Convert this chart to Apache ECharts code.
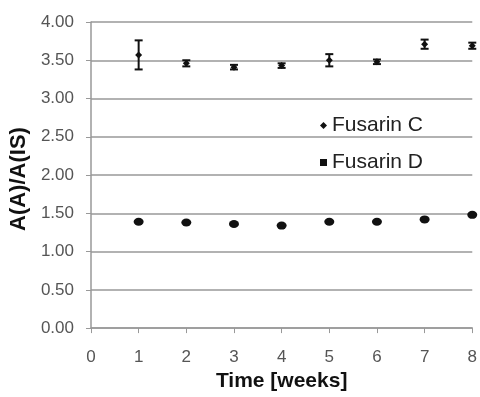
<!DOCTYPE html>
<html><head><meta charset="utf-8">
<script src="https://cdn.jsdelivr.net/npm/echarts@6/dist/echarts.min.js"></script>
<style>html,body{margin:0;padding:0;background:#fff}#c{width:480px;height:397px}</style>
</head><body><div id="c"></div>
<script>
const weeks = [1, 2, 3, 4, 5, 6, 7, 8];
const fusarinC = [3.57, 3.46, 3.41, 3.43, 3.50, 3.48, 3.71, 3.69];
const fusarinCErr = [0.19, 0.04, 0.03, 0.03, 0.08, 0.03, 0.06, 0.04];
const fusarinD = [1.39, 1.38, 1.36, 1.34, 1.39, 1.39, 1.42, 1.48];
const xTicks = [0, 1, 2, 3, 4, 5, 6, 7, 8];
const yTicks = [0, 0.5, 1, 1.5, 2, 2.5, 3, 3.5, 4];

const chart = echarts.init(document.getElementById('c'), null, {renderer: 'canvas'});
const errData = weeks.map((w, i) => [w, fusarinC[i] - fusarinCErr[i], fusarinC[i] + fusarinCErr[i]]);
const font = 'Liberation Sans, Arial, sans-serif';
chart.setOption({
  animation: false,
  grid: {left: 89, right: 7, top: 22, bottom: 67, containLabel: false},
  legend: {
    orient: 'vertical', left: 315, top: 110, itemGap: 16,
    itemWidth: 7, itemHeight: 7,
    textStyle: {fontFamily: font, fontSize: 21, color: '#222'},
    data: [{name: 'Fusarin C', icon: 'diamond'}, {name: 'Fusarin D', icon: 'rect'}]
  },
  xAxis: {
    type: 'value', min: 0, max: 8, interval: 1,
    name: 'Time [weeks]', nameLocation: 'middle', nameGap: 38,
    nameTextStyle: {fontFamily: font, fontSize: 21, fontWeight: 'bold', color: '#111'},
    axisLine: {lineStyle: {color: '#999', width: 1.5}},
    axisTick: {show: true, length: 5, lineStyle: {color: '#999'}},
    axisLabel: {fontFamily: font, fontSize: 17, color: '#555', margin: 21,
      formatter: v => xTicks.includes(v) ? String(v) : ''},
    splitLine: {show: false}
  },
  yAxis: {
    type: 'value', min: 0, max: 4, interval: 0.5,
    name: 'A(A)/A(IS)', nameLocation: 'middle', nameGap: 56,
    nameTextStyle: {fontFamily: font, fontSize: 22, fontWeight: 'bold', color: '#111', padding: [0, 8, 0, 0]},
    axisLine: {show: true, lineStyle: {color: '#999', width: 1.5}},
    axisTick: {show: true, length: 5, lineStyle: {color: '#999'}},
    axisLabel: {fontFamily: font, fontSize: 17, color: '#555', margin: 17,
      formatter: v => yTicks.includes(v) ? v.toFixed(2) : ''},
    splitLine: {show: true, lineStyle: {color: '#999', width: 1.5}}
  },
  series: [
    {
      name: 'Fusarin C', type: 'scatter', symbol: 'diamond', symbolSize: 7,
      itemStyle: {color: '#111', opacity: 1},
      data: weeks.map((w, i) => [w, fusarinC[i]]), z: 3
    },
    {
      name: 'Fusarin C err', type: 'custom', z: 4,
      renderItem: function (params, api) {
        const x = api.value(0);
        const lo = api.coord([x, api.value(1)]);
        const hi = api.coord([x, api.value(2)]);
        const hw = 4;
        const style = {stroke: '#111', lineWidth: 2};
        return {type: 'group', children: [
          {type: 'line', shape: {x1: lo[0], y1: lo[1], x2: hi[0], y2: hi[1]}, style},
          {type: 'line', shape: {x1: lo[0] - hw, y1: lo[1], x2: lo[0] + hw, y2: lo[1]}, style},
          {type: 'line', shape: {x1: hi[0] - hw, y1: hi[1], x2: hi[0] + hw, y2: hi[1]}, style}
        ]};
      },
      data: errData
    },
    {
      name: 'Fusarin D', type: 'scatter', symbol: 'circle', symbolSize: [10, 8],
      itemStyle: {color: '#111', opacity: 1},
      data: weeks.map((w, i) => [w, fusarinD[i]]), z: 3
    }
  ]
});
</script>
</body></html>
